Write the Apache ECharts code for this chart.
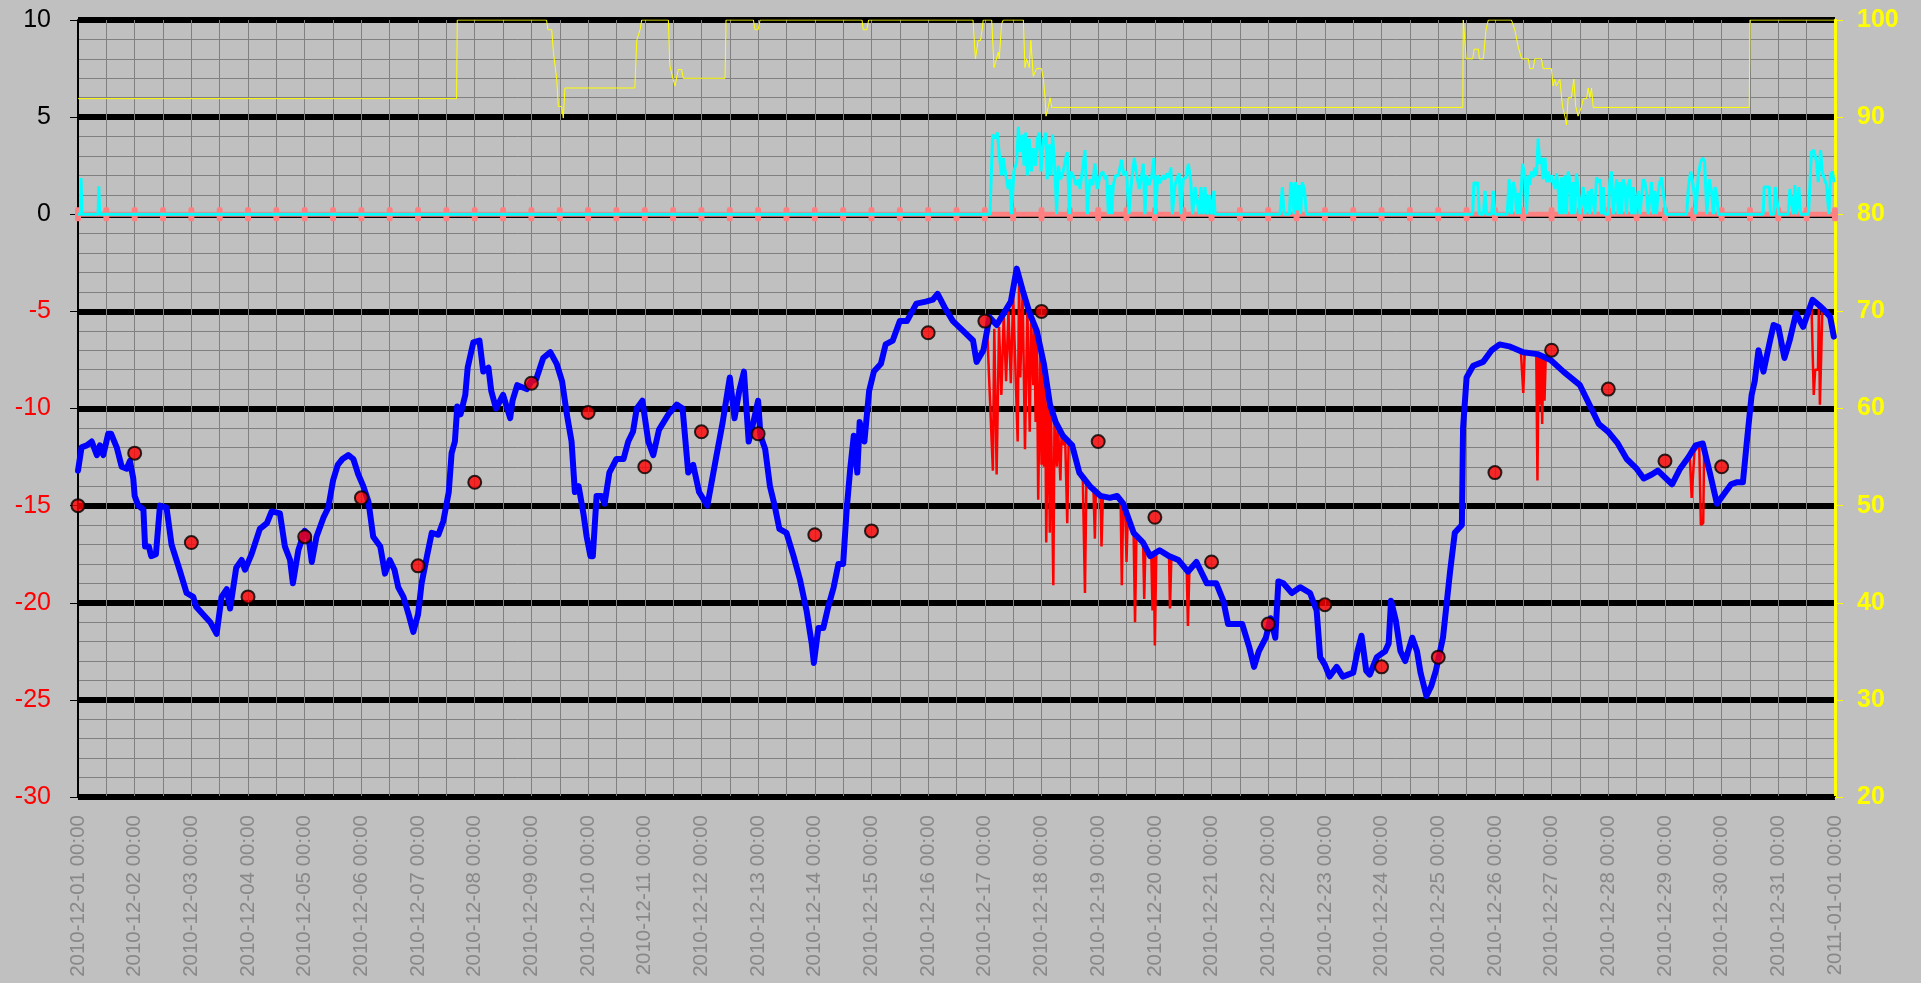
<!DOCTYPE html>
<html>
<head>
<meta charset="utf-8">
<script src="https://cdn.jsdelivr.net/npm/echarts@6/dist/echarts.min.js"></script>
<style>
html,body{margin:0;padding:0;background:#C0C0C0;}
#chart{width:1921px;height:983px;}
</style>
</head>
<body>
<div id="chart"></div>
<script>
// ---- Data (hours since 2010-12-01 00:00) ----
const startDate = Date.UTC(2010, 11, 1);
const leftTicks = [-30, -25, -20, -15, -10, -5, 0, 5, 10];
const rightTicks = [20, 30, 40, 50, 60, 70, 80, 90, 100];

// Blue temperature line
const blueHours = [0,1.5,3.7,5.8,8,9.3,10.7,12.8,14,16.4,18.5,20.6,22,23.4,24,25.5,27.7,28.4,30,31,33,34.7,37.5,39.6,43,46,48.8,50,53,56,58.7,60.8,63,64.4,67,69.3,70.7,73.5,77,80,82,85.5,87.6,89.8,91,93.3,96,97.5,99,101,104,106,108,110,112,114.5,116.6,118.7,120.8,123,125,128,130,132,134,135.6,137.8,140,142,144,145.5,147.6,149.8,152.6,154.7,157,158.2,159.6,160.6,162,164,165,167.4,170,171.6,173.8,175,177,180,183,184,186,190,192,194,197,200,202.7,205,207,209,210.4,212,214,215.4,217,218,219.6,221.7,223,225,228,231,233,235,236.6,239,241.5,243.6,246,250,253.5,256,258.4,260.5,263,265,266.5,268,270.4,273,276,278,280,282,284,286,288,289,291,293,295,297,300,303,305.7,308.5,310.7,311.6,313.5,315.6,317.7,320,322,324,325.5,327,328.5,330,331,333,335,337,340,342,345,348,351,355,359,362,364,367,370.5,374.8,379,380.5,383.4,386,389,392,395,397.5,400,403,406,409,411.6,414,417,421,424,428.5,433,437,440,442.6,447,451,454,458,462,466,470,473.6,478,482,485,487,490.6,493,496,498,500,503,505,507,508.3,510.4,514,517.5,521.7,524.5,526,528,530,533,535.6,540,541.8,543.5,545.5,547,550,553.5,555,556,558,560,562,565,567,568.5,571,573,575,578,581,583,586,586.5,588,590.8,595,598.6,602,606,612,618,623.6,629,636,640,644,648,652,655.8,660,663,666.4,669,675,678.4,682,685,688,691,694,697,700,702.3,705,706.6,708.7,710,711.6,713.7,716.5,718,720,722.6,724.8,727.5,730.5,732.5,734.5,737.4,740,742,743.5];
const blueTemp = [-13.2,-12.0,-11.9,-11.7,-12.4,-11.9,-12.4,-11.3,-11.3,-12.0,-13.0,-13.1,-12.7,-13.6,-14.5,-15.0,-15.2,-17.1,-17.1,-17.6,-17.5,-15.0,-15.1,-17.0,-18.3,-19.5,-19.7,-20.2,-20.6,-21.0,-21.6,-19.7,-19.3,-20.3,-18.2,-17.8,-18.3,-17.5,-16.2,-15.9,-15.3,-15.4,-17.1,-17.8,-19.0,-17.3,-16.3,-16.5,-17.9,-16.6,-15.6,-15.1,-13.7,-12.9,-12.6,-12.4,-12.6,-13.4,-14.0,-14.8,-16.6,-17.1,-18.5,-17.8,-18.3,-19.2,-19.7,-20.6,-21.5,-20.6,-19.0,-17.7,-16.4,-16.5,-15.8,-14.3,-12.3,-11.7,-9.9,-10.3,-9.3,-7.9,-6.6,-6.5,-8.1,-7.9,-9.1,-10.0,-9.3,-10.5,-9.6,-8.8,-9.0,-8.6,-8.5,-7.4,-7.1,-7.7,-8.6,-10.3,-11.7,-14.3,-14.0,-15.4,-16.6,-17.6,-17.6,-14.5,-14.5,-14.9,-13.3,-12.6,-12.6,-11.7,-11.2,-10.0,-9.6,-11.7,-12.4,-11.1,-10.3,-9.8,-10.0,-13.3,-12.9,-14.3,-14.7,-15.0,-14.0,-12.4,-10.7,-8.4,-10.5,-9.1,-8.1,-11.7,-10.7,-9.6,-11.4,-12.1,-14.0,-15.0,-16.2,-16.4,-17.6,-18.8,-20.4,-22.1,-23.1,-21.3,-21.3,-20.2,-19.2,-18.0,-18.0,-15.2,-13.1,-11.4,-13.3,-10.7,-11.7,-9.1,-8.1,-7.7,-6.7,-6.5,-5.5,-5.5,-4.6,-4.5,-4.4,-4.1,-4.8,-5.5,-6.0,-6.5,-7.6,-7.0,-5.3,-5.7,-5.1,-4.5,-2.8,-3.9,-5.1,-6.0,-7.7,-9.8,-10.7,-11.4,-11.9,-13.3,-14.0,-14.5,-14.6,-14.5,-14.9,-16.4,-16.9,-17.6,-17.3,-17.6,-17.8,-18.4,-17.9,-19.0,-19.0,-19.9,-21.1,-21.1,-21.1,-22.3,-23.3,-22.5,-21.8,-20.8,-21.8,-18.9,-19.0,-19.5,-19.2,-19.5,-20.4,-22.8,-23.2,-23.8,-23.3,-23.8,-23.6,-22.5,-21.7,-23.5,-23.7,-22.8,-22.5,-22.1,-19.9,-20.9,-22.5,-23.0,-21.8,-22.5,-23.6,-24.8,-24.3,-23.5,-21.8,-18.4,-16.4,-16.0,-11.0,-8.4,-7.8,-7.6,-7.0,-6.7,-6.8,-7.1,-7.2,-7.5,-8.1,-8.8,-9.8,-10.8,-11.2,-11.8,-12.6,-13.1,-13.6,-13.4,-13.2,-13.9,-13.1,-12.5,-11.9,-11.8,-13.3,-14.9,-14.4,-13.9,-13.8,-13.8,-11.8,-9.3,-8.6,-7.0,-8.1,-6.5,-5.7,-5.8,-7.4,-6.5,-5.1,-5.8,-5.1,-4.4,-4.7,-5.0,-5.3,-6.3];

// Red daily observations (00:00 each day)
const dotHours = [0,24,48,72,96,120,144,168,192,216,240,264,288,312,336,360,384,408,432,456,480,504,528,552,576,600,624,648,672,696];
const dotTemp = [-15.0,-12.3,-16.9,-19.7,-16.6,-14.6,-18.1,-13.8,-8.7,-10.2,-13.0,-11.2,-11.3,-16.5,-16.3,-6.1,-5.5,-5.0,-11.7,-15.6,-17.9,-21.1,-20.1,-23.3,-22.8,-13.3,-7.0,-9.0,-12.7,-13.0];

// Red spiky line (drawn under the blue line)
const redHours = [385,387.4,388,389,390,391,392,393,394,395,396,397.9,398.5,399,400,401,402,403,403.6,404.5,405,405.5,406,406.6,407.5,408,408.5,409,409.5,410,410.8,411.5,412,413,413.5,414.5,415,416,416.5,417.5,418,418.9,419.5,421,424,425.5,426.4,427,428.5,430,430.6,431,433,433.4,434,437,440,441.5,442,442.6,443.5,444,444.5,447,447.6,448.2,451,451.5,452,454.5,455,455.5,456,456.6,458,462,462.4,463,466,469.5,470,470.6,471,
  611,612,612.6,617.5,618,618.5,619,619.5,620,620.5,621,621.5,622,
  682.5,683.3,684,684.5,686.5,687.2,688.2,688.6,689,
  734,735,735.6,736.8,737.2,737.6,738.2,738.6];
const redTemp = [-6.0,-13.2,-5.9,-13.4,-5.8,-9.3,-5.2,-8.6,-5.0,-8.7,-4.2,-11.7,-3.3,-8.4,-4.0,-12.1,-4.8,-11.2,-5.3,-8.8,-5.7,-10.7,-6.0,-14.7,-6.5,-12.9,-7.3,-13.0,-7.9,-16.9,-8.8,-16.4,-9.9,-19.1,-10.4,-13.0,-10.9,-13.7,-11.2,-11.9,-11.5,-15.9,-11.7,-11.9,-13.3,-13.7,-19.5,-13.8,-14.0,-14.2,-16.7,-14.3,-14.5,-17.1,-14.5,-14.6,-14.5,-14.7,-19.1,-14.9,-15.3,-17.9,-15.6,-16.4,-21.0,-16.5,-16.9,-19.8,-17.1,-17.6,-20.4,-17.5,-22.2,-17.4,-17.3,-17.6,-20.3,-17.6,-17.8,-18.3,-21.2,-18.4,null,
  -7.1,-9.2,-7.1,-7.2,-13.7,-7.3,-9.8,-7.3,-10.8,-7.3,-9.6,-7.4,null,
  -12.4,-14.6,-14.6,-12.2,-11.9,-16.0,-15.9,-11.9,null,
  -4.5,-9.3,-8.0,-8.0,-4.6,-9.8,-7.1,-5.0];

// Cyan line
const cyanHours = [0,1,1.3,1.7,8.5,8.8,9.2,386.2,387.3,388.3,389.3,390.4,391.1,391.8,392.9,393.9,394.6,395.3,396.3,397.5,398.2,398.9,399.9,400.6,401.3,402,402.8,403.8,404.5,405.5,406.3,407,407.8,408.5,409,409.9,410.4,411.3,412,412.7,413.7,414.4,415.1,416.1,417.2,418.3,418.9,419.8,420.3,421.4,422.6,423.6,424.3,426.4,427.4,428.5,429.7,430.6,431.6,432.8,433.9,434.9,435.6,436.3,437,437.7,438.4,439.4,440.5,441.9,442.9,444,445,446.2,447.3,448.3,449.4,450.4,451.1,451.8,452.5,453.6,454.6,455.6,456.3,457.2,458.2,459.3,460.3,461,462,462.8,463.4,464.5,465.2,466.3,467,468,469.2,470.2,471.2,472,473,473.7,474.8,475.5,476.5,477.2,478.2,479,480,481,481.5,
  509,510,510.7,513,513.5,514.2,514.9,515.6,516.3,517,517.7,518.4,519.3,520.2,
  590.6,591.1,592,592.7,593.4,595.1,595.8,596.5,598.6,599.3,600,605.2,606,607,607.8,608.5,609.2,609.9,610.6,611.7,612.7,613.4,614.1,614.8,615.5,616.2,616.9,617.6,618.3,619,619.7,620.4,621.2,621.9,622.6,623.3,624,624.7,625.4,626.1,626.8,627.5,628.2,628.9,629.6,630.3,631,631.7,632.4,633.1,633.8,634.5,635.3,636,637.4,638.1,639.5,640.2,640.9,641.6,642.3,643,643.7,644.5,645.2,645.9,646.6,648,648.7,649.4,650.1,651.5,652.2,652.9,653.6,654.3,655,655.7,656.4,657.1,657.9,658.6,659.3,660.7,661.4,662.8,663.5,664.2,664.9,666.3,667,667.7,668.4,669.1,669.8,670.6,671.3,672.4,
  681.2,681.9,682.9,683.6,684.3,685.1,686.1,687.1,688,688.8,689.7,690.8,691.8,692.5,693.2,693.9,694.6,
  713.6,714,715,716.2,716.7,718.1,718.7,719.5,720.2,724.2,724.9,725.6,726.3,727,727.7,728.7,729.4,732.8,734,735,736.2,736.9,737.9,738.6,739.3,740.4,741.4,742.1,742.9,743.6];
const cyanVal = [0,0,1.86,0,0,1.44,0,0,4.1,3.9,4.2,2.7,2.0,2.9,2.0,1.3,1.8,0,2.2,2.7,4.5,3.2,4.1,2.5,4.2,2.0,3.9,2.2,3.4,2.5,3.9,4.2,2.2,3.4,3.9,4.2,1.8,3.6,2.0,4.1,2.2,0,2.5,1.8,2.2,2.9,3.2,0,2.2,2.0,1.5,1.8,1.3,3.3,0,1.8,1.5,2.6,1.3,2.0,2.2,1.8,2.0,0,1.5,0,1.5,2.0,2.0,2.8,2.0,2.2,0,1.8,2.9,2.0,1.3,2.0,2.6,0,2.0,1.5,1.9,2.9,0,2.0,1.6,2.0,1.8,2.1,1.9,2.4,0,1.5,1.8,2.1,0,1.8,1.9,2.6,1.7,0,1.4,1.3,0,1.4,0,1.4,0,1.0,0,1.2,0,
  0,1.4,0,0,1.65,1.5,0,1.65,0.2,1.5,0,1.65,1.3,0,
  0,1.65,1.5,1.65,0,0,1.2,0,0,1.2,0,0,1.8,0,1.65,1.3,0,1.1,0,2.6,1.9,0,2.0,1.5,2.2,1.9,2.4,2.0,3.9,2.6,2.9,1.8,2.9,1.65,2.2,1.65,2.0,1.9,1.3,2.1,1.3,0,1.9,0,2.0,0,2.2,1.8,0,1.65,0,2.1,1.3,0,1.4,0,1.2,0,1.3,1.4,0,1.9,1.65,1.8,0,1.4,0,0,1.8,2.2,0,1.8,0,1.65,0,1.8,1.5,0,1.5,1.8,0,1.4,0,1.2,0,1.8,1.65,1.1,0,1.65,0,1.2,0,1.1,1.65,1.9,1.1,0,
  0,1.4,2.2,1.8,1.1,0,2.0,2.7,2.9,2.7,0,1.8,1.1,0,1.4,1.1,0,
  0,1.4,1.4,1.4,0,0,1.4,1.3,0,0,1.3,1.3,0,1.5,0,1.4,0,0,3.2,3.3,2.7,1.65,3.3,2.2,1.9,1.5,0,2.0,2.2,1.65];

// Pink line at zero with markers every 12 hours
const pinkHours = [0,12,24,36,48,60,72,84,96,108,120,132,144,156,168,180,192,204,216,228,240,252,264,276,288,300,312,324,336,348,360,372,384,396,408,420,432,444,456,468,480,492,504,516,528,540,552,564,576,588,600,612,624,636,648,660,672,684,696,708,720,732,744];
const pinkVal = [0,0,0,0,0,0,0,0,0,0,0,0,0,0,0,0,0,0,0,0,0,0,0,0,0,0,0,0,0,0,0,0,0,0,0,0,0,0,0,0,0,0,0,0,0,0,0,0,0,0,0,0,0,0,0,0,0,0,0,0,0,0,0];

// Yellow line (right axis, %)
const yellowHours = [0,160.3,160.6,198.4,199,200.6,201.3,202.7,203.4,204.8,205.5,206.2,235.8,236.6,238,238.7,250,250.6,252,252.8,254.2,255.6,256.3,274,274.4,286,286.7,288,288.8,332,332.5,334,334.8,379,380,381.2,382.2,383,383.3,386.9,387.9,388.7,389.7,390.1,391.1,391.8,400.3,401,401.7,402.8,403.5,404.5,405.2,405.9,408,408.8,409.5,409.9,410.9,411.6,412.3,586.4,586.6,587.8,590.6,591.2,593,593.4,595.1,596.2,597.2,607,608.4,609.9,611.3,614.1,614.8,616.2,616.9,619.7,620.4,623.9,624.6,625.3,626,627.5,628.6,629.6,630.3,631,632.4,633.4,634.2,635.2,635.7,636.7,637.4,638.8,639.5,640.2,640.9,641.6,707.7,708,744];
const yellowVal = [91.9,91.9,100,100,99,99,96.7,93.9,91.1,91.1,89.9,93,93,97.9,99,100,100,95.3,93.9,93.2,94.9,94.9,94,94,100,100,99,99,100,100,99,99,100,100,96,97.9,97.9,99.3,100,100,95.1,95.1,96.7,96,99.6,100,100,95.1,96,95.1,97.9,94.2,94.2,95,95,93.9,92,90.1,91.1,92,91,91,100,96,96,97,97,96,96,99,100,100,99,97.2,96,96,95,95,96,96,95,95,93.2,93.9,93.2,93.9,91.1,90.1,89.2,92,92,93.9,91.1,90.1,90.1,91.1,91.9,91.9,93,92,93,91,91,100,100];

function pairs(xs, ys) { return xs.map((x, i) => [x, ys[i]]); }
function pad(n) { return (n < 10 ? '0' : '') + n; }
function dateLabel(h) {
  const d = new Date(startDate + h * 3600000);
  return d.getUTCFullYear() + '-' + pad(d.getUTCMonth() + 1) + '-' + pad(d.getUTCDate()) + ' ' + pad(d.getUTCHours()) + ':' + pad(d.getUTCMinutes());
}

const chart = echarts.init(document.getElementById('chart'), null, {renderer: 'canvas'});
const font = 'Liberation Sans, Arial, sans-serif';
chart.setOption({
  backgroundColor: '#C0C0C0',
  animation: false,
  grid: {left: 78, right: 86, top: 20, bottom: 186, containLabel: false},
  xAxis: {
    type: 'value', min: 0, max: 744, interval: 12,
    axisLine: {show: true, onZero: false, lineStyle: {color: '#000', width: 2}},
    axisTick: {show: false},
    axisLabel: {
      rotate: 90, color: '#888888', fontSize: 20.5, fontFamily: font, margin: 18,
      formatter: v => (v % 24 === 0 ? dateLabel(v) : '')
    },
    splitLine: {show: true, lineStyle: {color: '#808080', width: 1}}
  },
  yAxis: [{
    type: 'value', min: leftTicks[0], max: leftTicks[leftTicks.length - 1], interval: 5,
    axisLine: {show: true, onZero: false, lineStyle: {color: '#000', width: 2}},
    axisTick: {show: true, length: 8, lineStyle: {color: '#000', width: 1}},
    axisLabel: {
      fontSize: 25, fontFamily: font, margin: 27,
      color: v => (v >= 0 ? '#000000' : '#FF0000')
    },
    splitLine: {show: true, lineStyle: {color: '#000', width: 6}},
    minorTick: {show: false, splitNumber: 5},
    minorSplitLine: {show: true, lineStyle: {color: '#808080', width: 1}}
  }, {
    type: 'value', min: rightTicks[0], max: rightTicks[rightTicks.length - 1], interval: 10,
    position: 'right',
    axisLine: {show: true, onZero: false, lineStyle: {color: '#FFFF00', width: 3}},
    axisTick: {show: true, length: 8, lineStyle: {color: '#FFFF00', width: 1}},
    axisLabel: {fontSize: 25, fontWeight: 'bold', fontFamily: font, color: '#FFFF00', margin: 22},
    splitLine: {show: false}
  }],
  series: [
    {type: 'line', yAxisIndex: 1, data: pairs(yellowHours, yellowVal), showSymbol: false,
     lineStyle: {color: '#FFFF00', width: 1}, z: 2},
    {type: 'line', data: pairs(pinkHours, pinkVal), symbol: 'roundRect', symbolSize: [6, 14], showSymbol: true,
     itemStyle: {color: '#FF8080'}, lineStyle: {color: '#FF8080', width: 5}, z: 3},
    {type: 'line', data: pairs(cyanHours, cyanVal), showSymbol: false,
     lineStyle: {color: '#00FFFF', width: 3}, z: 4},
    {type: 'line', data: pairs(redHours, redTemp), showSymbol: false, connectNulls: false,
     lineStyle: {color: '#FF0000', width: 2.5}, z: 5},
    {type: 'line', data: pairs(blueHours, blueTemp), showSymbol: false,
     lineStyle: {color: '#0000FF', width: 6, join: 'round', cap: 'round'}, z: 6},
    {type: 'scatter', data: pairs(dotHours, dotTemp), symbol: 'circle', symbolSize: 13,
     itemStyle: {color: '#FF0000', borderColor: '#000', borderWidth: 2}, z: 7}
  ]
});
</script>
</body>
</html>
